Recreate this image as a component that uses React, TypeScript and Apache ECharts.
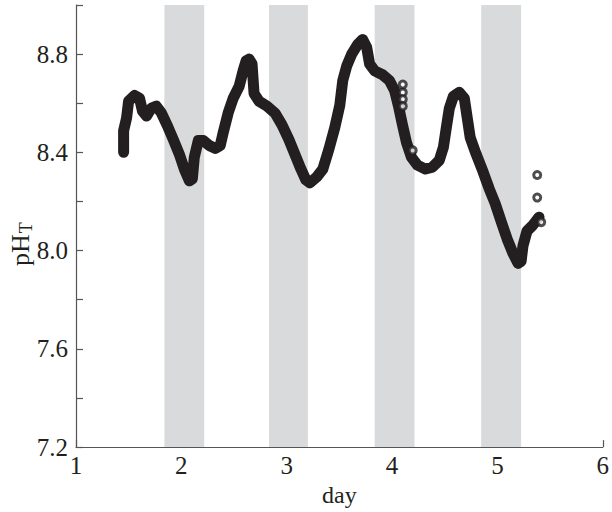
import React, { useEffect, useRef } from "react";
import * as echarts from "echarts";

// main trace (day, pH_T)
const traceDay = [1.452, 1.452, 1.48, 1.499, 1.556, 1.603, 1.631, 1.669, 1.716, 1.763, 1.811, 1.868, 1.924, 1.981, 2.028, 2.076, 2.104, 2.123, 2.161, 2.208, 2.265, 2.321, 2.369, 2.397, 2.444, 2.492, 2.548, 2.586, 2.614, 2.643, 2.671, 2.69, 2.738, 2.813, 2.889, 2.955, 3.021, 3.078, 3.135, 3.182, 3.22, 3.286, 3.343, 3.4, 3.456, 3.504, 3.532, 3.57, 3.617, 3.674, 3.721, 3.759, 3.787, 3.835, 3.91, 3.976, 4.024, 4.061, 4.099, 4.137, 4.184, 4.241, 4.317, 4.383, 4.449, 4.487, 4.515, 4.544, 4.582, 4.638, 4.686, 4.714, 4.742, 4.799, 4.865, 4.922, 4.979, 5.035, 5.092, 5.149, 5.196, 5.225, 5.243, 5.281, 5.329, 5.366, 5.395];
const tracePh = [8.4, 8.488, 8.54, 8.608, 8.632, 8.62, 8.568, 8.548, 8.58, 8.588, 8.56, 8.508, 8.452, 8.392, 8.332, 8.284, 8.292, 8.38, 8.448, 8.448, 8.428, 8.416, 8.428, 8.48, 8.56, 8.62, 8.668, 8.732, 8.772, 8.78, 8.76, 8.64, 8.608, 8.588, 8.56, 8.512, 8.452, 8.392, 8.332, 8.288, 8.276, 8.3, 8.332, 8.412, 8.5, 8.592, 8.692, 8.752, 8.8, 8.84, 8.86, 8.828, 8.76, 8.732, 8.716, 8.692, 8.652, 8.588, 8.512, 8.44, 8.38, 8.348, 8.332, 8.34, 8.368, 8.42, 8.5, 8.58, 8.628, 8.644, 8.62, 8.54, 8.46, 8.392, 8.32, 8.252, 8.192, 8.12, 8.048, 7.988, 7.948, 7.956, 8.02, 8.08, 8.1, 8.12, 8.136];

// isolated open-circle samples
const openDay = [4.102, 4.102, 4.102, 4.102, 4.196, 5.378, 5.378, 5.416];
const openPh = [8.676, 8.644, 8.616, 8.588, 8.408, 8.308, 8.216, 8.116];

// night (shaded) periods
const bandStart = [1.839, 2.832, 3.835, 4.846];
const bandEnd = [2.217, 3.201, 4.213, 5.225];

const xTickMin = 1;
const xTickMax = 6;
const yTickMin = 7.2;
const yTickMax = 9.0;

const INK = "#231f20";
const FONT = "Liberation Serif";

export default function App() {
  const ref = useRef<HTMLDivElement>(null);

  useEffect(() => {
    document.body.style.margin = "0";
    if (!ref.current) return;
    const chart = echarts.init(ref.current, undefined, { renderer: "svg" });

    const trace = traceDay.map((d, i) => [d, tracePh[i]]);
    const open = openDay.map((d, i) => [d, openPh[i]]);
    const bands = bandStart.map((s, i) => [{ xAxis: s }, { xAxis: bandEnd[i] }]);

    chart.setOption({
      animation: false,
      grid: { left: 76, right: 9, top: 5, bottom: 57 },
      xAxis: {
        type: "value",
        min: xTickMin,
        max: xTickMax,
        interval: 1,
        name: "day",
        nameLocation: "middle",
        nameGap: 30,
        nameTextStyle: { fontFamily: FONT, fontSize: 24, color: INK },
        axisLine: { show: true, lineStyle: { color: "#555", width: 1.2 } },
        axisTick: { show: true, inside: true, length: 7, lineStyle: { color: "#555", width: 1.2 } },
        axisLabel: { fontFamily: FONT, fontSize: 25, color: INK, margin: 6 },
        splitLine: { show: false },
      },
      yAxis: {
        type: "value",
        min: yTickMin,
        max: yTickMax,
        interval: 0.2,
        axisLine: { show: true, lineStyle: { color: "#555", width: 1.2 } },
        axisTick: { show: true, inside: true, length: 7, lineStyle: { color: "#555", width: 1.2 } },
        axisLabel: {
          fontFamily: FONT,
          fontSize: 25,
          color: INK,
          margin: 8,
          formatter: (v: number) => {
            const k = Math.round(v * 10) - 72;
            return k % 4 === 0 ? v.toFixed(1) : "";
          },
        },
        splitLine: { show: false },
      },
      graphic: [
        {
          type: "text",
          x: 20,
          y: 244,
          rotation: Math.PI / 2,
          style: {
            text: "{a|pH}{b|T}",
            align: "center",
            verticalAlign: "middle",
            rich: {
              a: { fontFamily: FONT, fontSize: 26, fill: INK, lineHeight: 30 },
              b: { fontFamily: FONT, fontSize: 18, fill: INK, lineHeight: 30, padding: [12, 0, 0, 1] },
            },
          },
        },
      ],
      series: [
        {
          type: "line",
          data: trace,
          showSymbol: false,
          smooth: false,
          lineStyle: { color: INK, width: 11, cap: "round", join: "round" },
          z: 3,
          markArea: {
            silent: true,
            itemStyle: { color: "#d9dadb" },
            data: bands,
          },
        },
        {
          type: "scatter",
          data: open,
          symbol: "circle",
          symbolSize: 7,
          itemStyle: { color: "#ffffff", borderColor: INK, borderWidth: 3 },
          z: 4,
        },
      ],
    });

    return () => chart.dispose();
  }, []);

  return <div ref={ref} style={{ width: 612, height: 512 }} />;
}
